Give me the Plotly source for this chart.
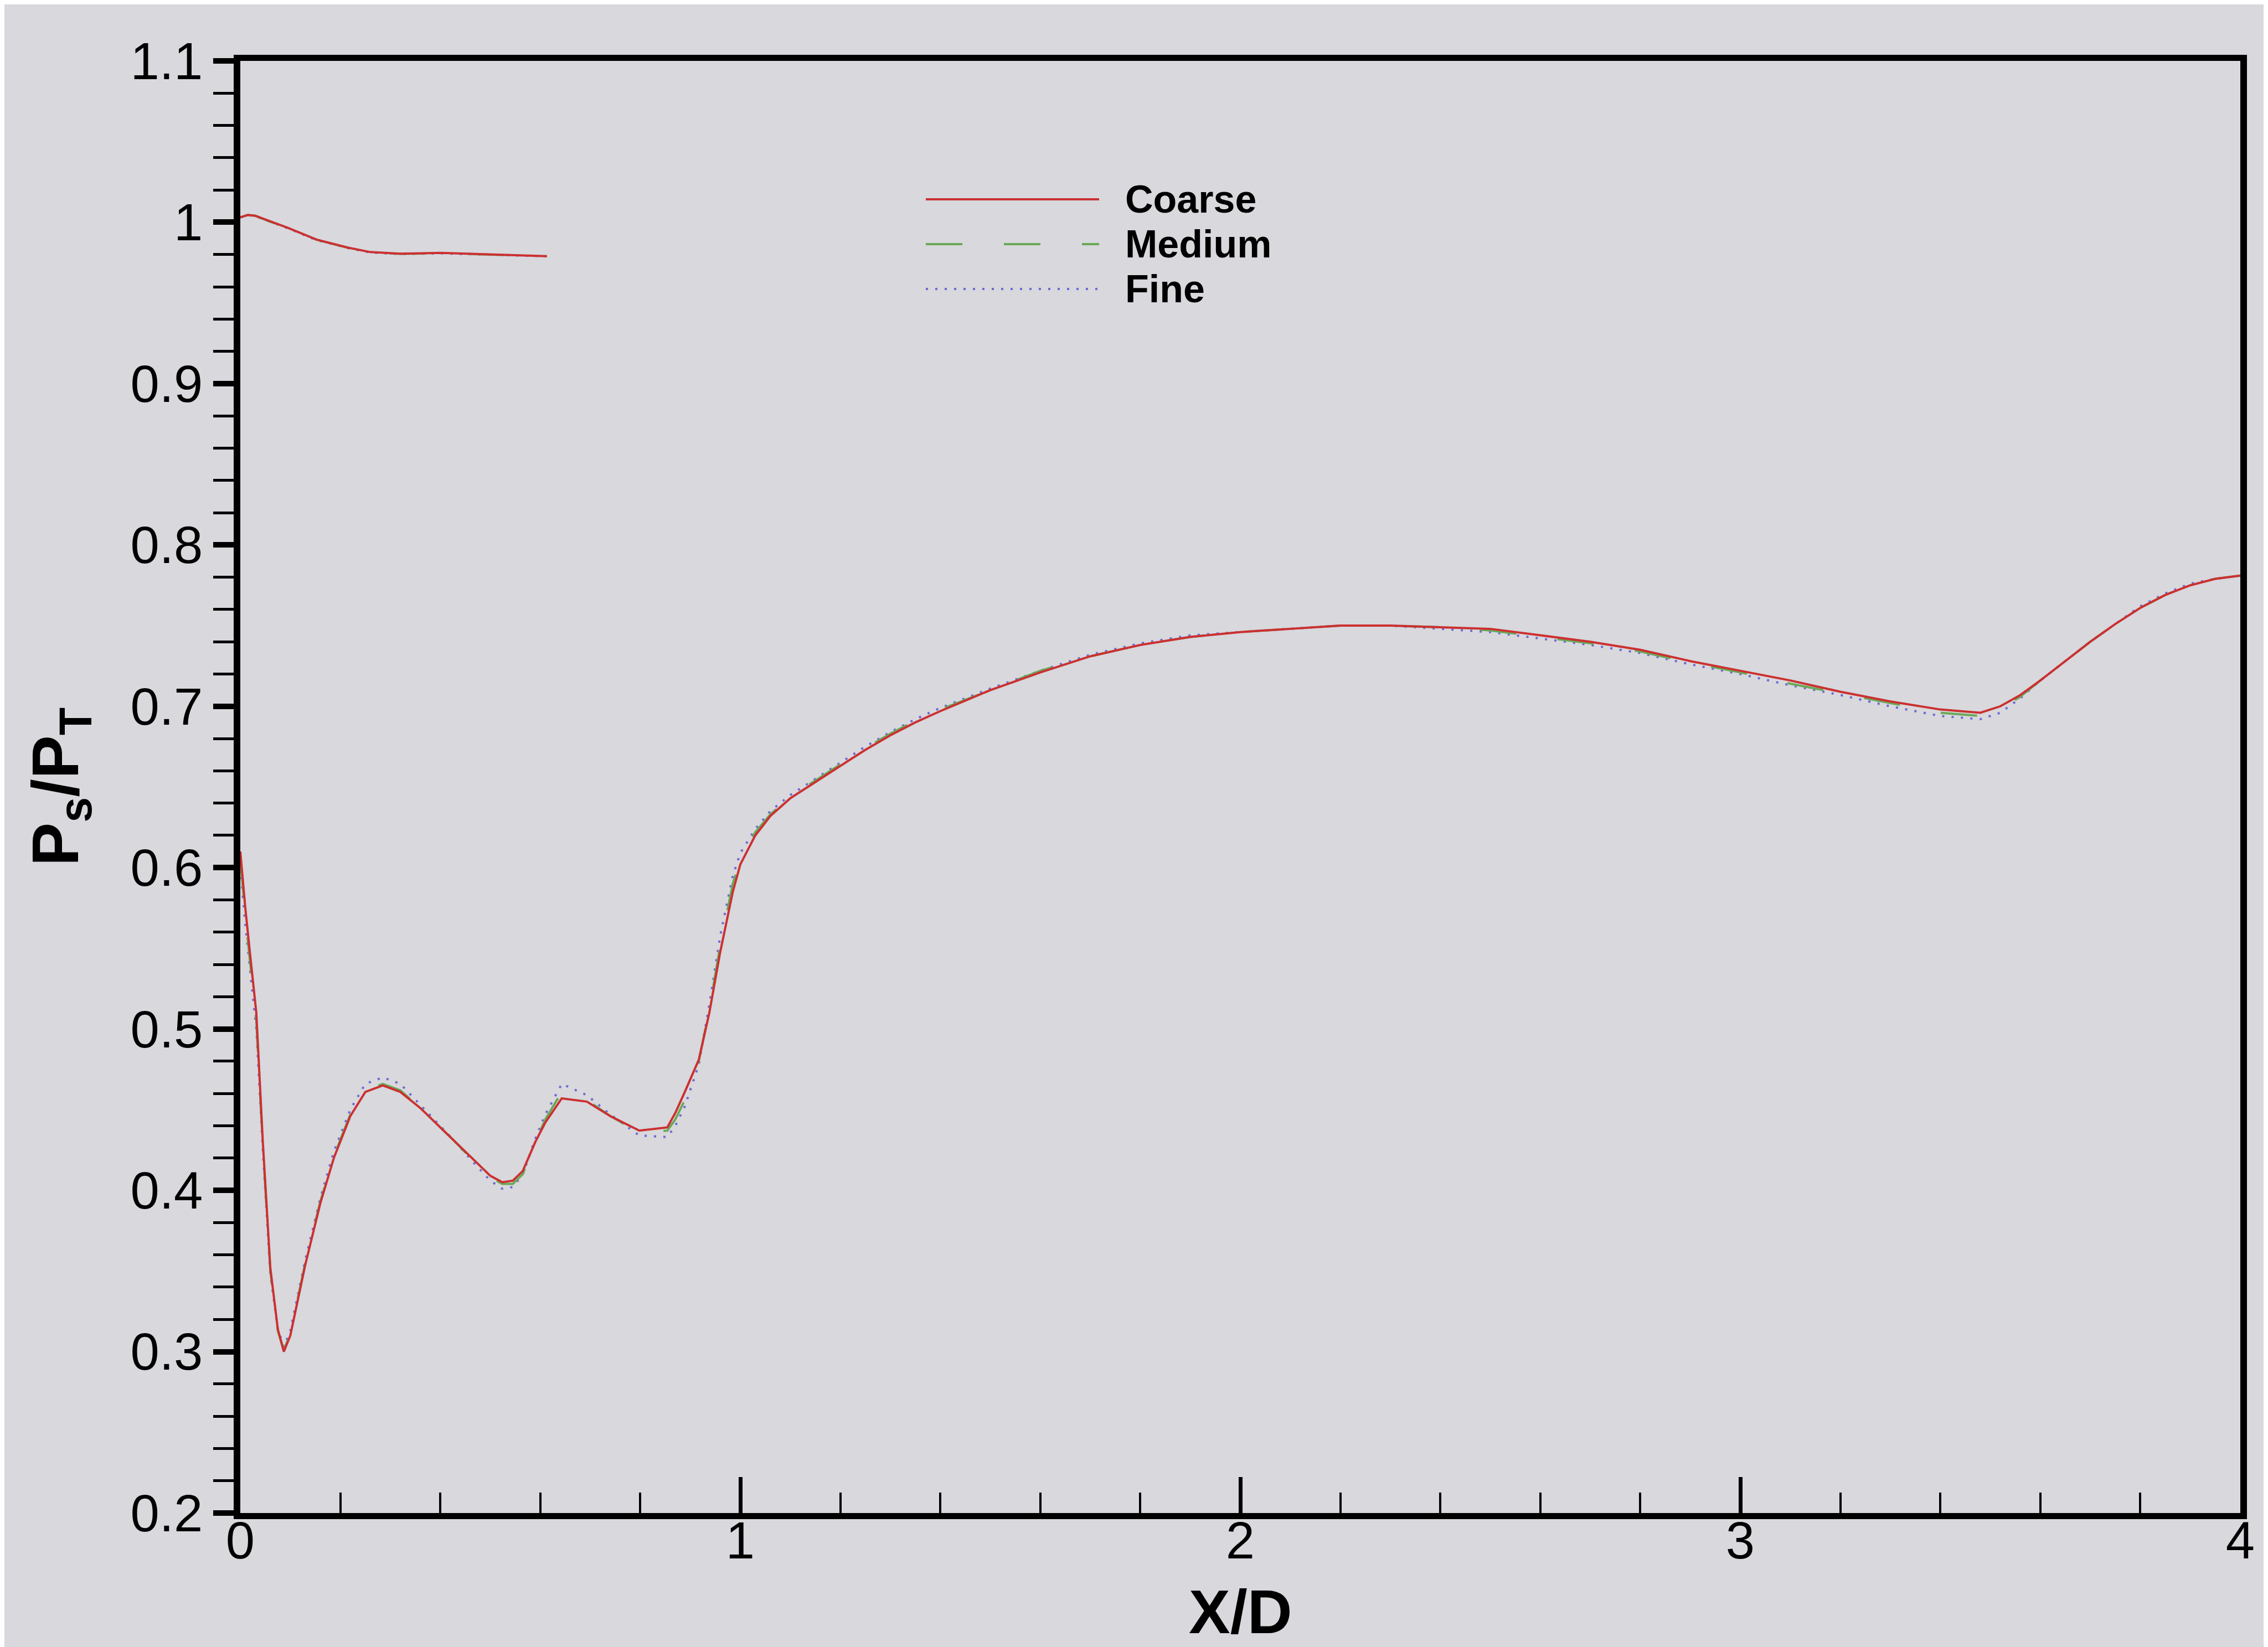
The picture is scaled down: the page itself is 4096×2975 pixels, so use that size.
import plotly.graph_objects as go

# ---------------- data ----------------
upper_x = [0.000, 0.015, 0.030, 0.060, 0.094, 0.152, 0.215, 0.260, 0.320, 0.400, 0.500, 0.613]
upper_coarse = [1.003, 1.0045, 1.004, 1.0005, 0.9967, 0.9893, 0.9843, 0.9815, 0.9805, 0.981, 0.980, 0.979]
upper_medium = [1.003, 1.0045, 1.004, 1.0003, 0.9965, 0.9892, 0.9842, 0.9813, 0.9804, 0.9808, 0.9799, 0.9790]
upper_fine = [1.003, 1.0044, 1.0038, 1.0002, 0.9964, 0.9890, 0.9840, 0.9812, 0.9803, 0.9807, 0.9798, 0.9789]

lower_x = [0.000, 0.010, 0.020, 0.032, 0.045, 0.060, 0.075, 0.087, 0.100, 0.130,
           0.160, 0.187, 0.220, 0.250, 0.285, 0.320, 0.360, 0.390, 0.430, 0.470,
           0.500, 0.524, 0.545, 0.565, 0.590, 0.610, 0.643, 0.693, 0.740, 0.798,
           0.854, 0.870, 0.889, 0.917, 0.938, 0.960, 0.985, 1.000, 1.030, 1.060,
           1.100, 1.150, 1.200, 1.250, 1.300, 1.350, 1.400, 1.500, 1.600, 1.700,
           1.800, 1.900, 2.000, 2.100, 2.200, 2.300, 2.400, 2.500, 2.600, 2.700,
           2.800, 2.900, 3.000, 3.100, 3.200, 3.300, 3.400, 3.480, 3.520, 3.560,
           3.600, 3.650, 3.700, 3.750, 3.800, 3.850, 3.900, 3.950, 4.000]

lower_coarse = [0.610, 0.575, 0.545, 0.510, 0.430, 0.352, 0.314, 0.300, 0.310, 0.354,
                0.392, 0.420, 0.446, 0.461, 0.465, 0.461, 0.451, 0.442, 0.430, 0.418,
                0.409, 0.405, 0.406, 0.412, 0.430, 0.442, 0.457, 0.455, 0.446, 0.437,
                0.439, 0.448, 0.461, 0.481, 0.510, 0.548, 0.585, 0.602, 0.620, 0.632,
                0.643, 0.653, 0.663, 0.673, 0.682, 0.690, 0.697, 0.710, 0.721, 0.731,
                0.738, 0.743, 0.746, 0.748, 0.750, 0.750, 0.749, 0.748, 0.744, 0.740,
                0.735, 0.728, 0.722, 0.716, 0.709, 0.703, 0.698, 0.696, 0.700, 0.707,
                0.716, 0.728, 0.740, 0.751, 0.761, 0.769, 0.775, 0.779, 0.781]

lower_medium = [0.605, 0.570, 0.540, 0.505, 0.428, 0.350, 0.313, 0.301, 0.311, 0.355,
                0.393, 0.421, 0.447, 0.462, 0.466, 0.462, 0.451, 0.442, 0.430, 0.417,
                0.408, 0.404, 0.404, 0.410, 0.430, 0.444, 0.461, 0.456, 0.446, 0.436,
                0.437, 0.444, 0.456, 0.480, 0.512, 0.552, 0.590, 0.605, 0.622, 0.633,
                0.644, 0.654, 0.664, 0.674, 0.683, 0.691, 0.698, 0.710, 0.722, 0.731,
                0.738, 0.743, 0.746, 0.748, 0.750, 0.750, 0.749, 0.747, 0.743, 0.739,
                0.734, 0.727, 0.721, 0.714, 0.708, 0.702, 0.696, 0.694, 0.698, 0.706,
                0.716, 0.728, 0.740, 0.751, 0.761, 0.769, 0.775, 0.779, 0.781]

lower_fine = [0.600, 0.565, 0.535, 0.500, 0.425, 0.348, 0.314, 0.303, 0.313, 0.357,
              0.395, 0.424, 0.450, 0.466, 0.470, 0.466, 0.453, 0.443, 0.430, 0.416,
              0.406, 0.401, 0.402, 0.410, 0.432, 0.447, 0.466, 0.459, 0.447, 0.434,
              0.433, 0.440, 0.452, 0.478, 0.515, 0.558, 0.595, 0.609, 0.624, 0.635,
              0.645, 0.655, 0.665, 0.675, 0.684, 0.692, 0.699, 0.711, 0.722, 0.732,
              0.739, 0.744, 0.746, 0.748, 0.750, 0.750, 0.748, 0.746, 0.742, 0.738,
              0.733, 0.726, 0.720, 0.713, 0.707, 0.700, 0.694, 0.692, 0.696, 0.705,
              0.716, 0.728, 0.740, 0.751, 0.762, 0.770, 0.776, 0.779, 0.781]

series_names = ["Coarse", "Medium", "Fine"]
x_tick_vals = [0, 1, 2, 3, 4]
x_tick_text = ["0", "1", "2", "3", "4"]
y_tick_vals = [0.2, 0.3, 0.4, 0.5, 0.6, 0.7, 0.8, 0.9, 1.0, 1.1]
y_tick_text = ["0.2", "0.3", "0.4", "0.5", "0.6", "0.7", "0.8", "0.9", "1", "1.1"]

# ---------------- styling ----------------
W, H = 4096, 2975
ML, MR, MT, MB = 426, 58, 102, 250
PW, PH = W - ML - MR, H - MT - MB
BG = "#d8d8dd"
FONT = "Liberation Sans, Arial, Helvetica, sans-serif"

styles = {
    "Coarse": dict(color="#cc3030", width=4, dash="solid"),
    "Medium": dict(color="#6aa858", width=4, dash="66px,75px"),
    "Fine": dict(color="#6b6bd2", width=4, dash="4px,13px"),
}

data = {
    "Coarse": (upper_coarse, lower_coarse),
    "Medium": (upper_medium, lower_medium),
    "Fine": (upper_fine, lower_fine),
}

fig = go.Figure()
for name in ["Fine", "Medium", "Coarse"]:
    up, lo = data[name]
    fig.add_trace(go.Scatter(
        x=upper_x + [None] + lower_x,
        y=up + [None] + lo,
        mode="lines",
        name=name,
        line=styles[name],
        connectgaps=False,
        showlegend=False,
    ))

# ---------------- manual legend (long line samples like the reference) ----------------
def px2paper_x(px):
    return (px - ML) / PW

def px2paper_y(py):
    return (H - MB - py) / PH

leg_x0, leg_x1, leg_tx = 1664, 1977, 2022
leg_rows = [352, 433, 514]
shapes = []
annotations = []
for name, row in zip(series_names, leg_rows):
    st = styles[name]
    shapes.append(dict(type="line", xref="paper", yref="paper",
                       x0=px2paper_x(leg_x0), x1=px2paper_x(leg_x1),
                       y0=px2paper_y(row), y1=px2paper_y(row),
                       line=dict(color=st["color"], width=st["width"], dash=st["dash"])))
    annotations.append(dict(text="<b>%s</b>" % name, xref="paper", yref="paper",
                            x=px2paper_x(leg_tx), y=px2paper_y(row),
                            xanchor="left", yanchor="middle", showarrow=False,
                            font=dict(family=FONT, size=70, color="black")))

# axis titles
annotations.append(dict(text="<b>X/D</b>", xref="paper", yref="paper",
                        x=0.5, y=px2paper_y(2903), xanchor="center", yanchor="middle",
                        showarrow=False, font=dict(family=FONT, size=112, color="black")))
annotations.append(dict(text="<b>P<sub>s</sub>/P<sub>T</sub></b>", xref="paper", yref="paper",
                        x=px2paper_x(100), y=0.5, xanchor="center", yanchor="middle",
                        textangle=-90, showarrow=False,
                        font=dict(family=FONT, size=118, color="black")))

fig.update_layout(
    width=W, height=H,
    margin=dict(l=ML, r=MR, t=MT, b=MB, autoexpand=False),
    paper_bgcolor=BG, plot_bgcolor=BG,
    font=dict(family=FONT, size=94, color="black"),
    shapes=shapes, annotations=annotations,
    showlegend=False,
)

fig.update_xaxes(
    range=[0, 4], tickmode="array", tickvals=x_tick_vals, ticktext=x_tick_text,
    showgrid=False, zeroline=False, showline=True, linecolor="black", linewidth=11,
    mirror=True, ticks="inside", ticklen=65, tickwidth=7, tickcolor="black",
    ticklabelstandoff=-42,
    tickfont=dict(family=FONT, size=94, color="black"),
    minor=dict(tickmode="linear", tick0=0, dtick=0.2, ticks="inside", ticklen=37,
               tickwidth=4, tickcolor="black", showgrid=False),
    automargin=False,
)
fig.update_yaxes(
    range=[0.2, 1.1], tickmode="array", tickvals=y_tick_vals, ticktext=y_tick_text,
    showgrid=False, zeroline=False, showline=True, linecolor="black", linewidth=12,
    mirror=True, ticks="outside", ticklen=37, tickwidth=10, tickcolor="black",
    tickfont=dict(family=FONT, size=94, color="black"),
    minor=dict(tickmode="linear", tick0=0.2, dtick=0.02, ticks="outside", ticklen=37,
               tickwidth=5, tickcolor="black", showgrid=False),
    automargin=False,
)

fig.write_html("out.html")
